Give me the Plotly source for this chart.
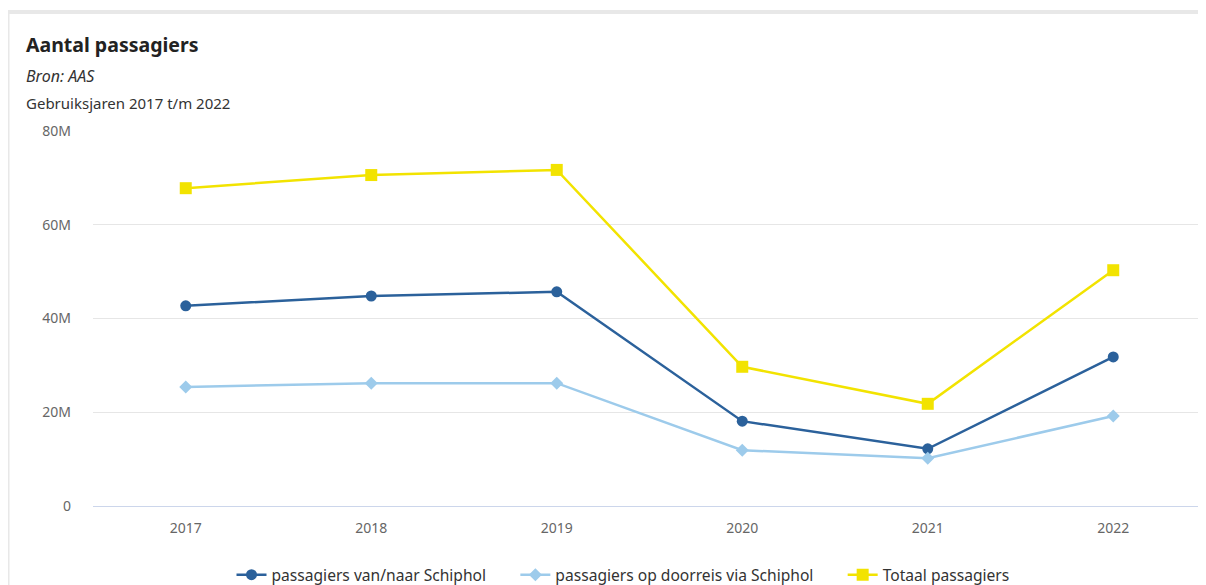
import plotly.graph_objects as go

years = ["2017", "2018", "2019", "2020", "2021", "2022"]
van_naar = [42.7e6, 44.8e6, 45.7e6, 18.1e6, 12.2e6, 31.8e6]
doorreis = [25.4e6, 26.2e6, 26.2e6, 11.9e6, 10.2e6, 19.2e6]
totaal = [67.8e6, 70.6e6, 71.7e6, 29.7e6, 21.8e6, 50.3e6]
y_ticks = [0, 20e6, 40e6, 60e6, 80e6]
y_tick_labels = ["0", "20M", "40M", "60M", "80M"]

FONT = "Noto Sans"
# page body has an 8px margin, so the figure is drawn 8px smaller/offset
W, H = 1198, 577
L, T, B = 85, 123, 79
PW = W - L
PH = H - T - B

def py(page_y):
    # reference page y -> paper y
    return 1 + (131 - page_y) / PH

def px(page_x):
    return (page_x - 93) / PW

NB = "\u00a0" * 6

fig = go.Figure()
fig.add_trace(go.Scatter(
    x=years, y=van_naar, name="passagiers van/naar Schiphol" + NB,
    mode="lines+markers", line=dict(color="#2b619b", width=2.5),
    marker=dict(symbol="circle", size=11, color="#2b619b")))
fig.add_trace(go.Scatter(
    x=years, y=doorreis, name="passagiers op doorreis via Schiphol" + NB,
    mode="lines+markers", line=dict(color="#9dcbeb", width=2.5),
    marker=dict(symbol="diamond", size=10, color="#9dcbeb")))
fig.add_trace(go.Scatter(
    x=years, y=totaal, name="Totaal passagiers",
    mode="lines+markers", line=dict(color="#f2e300", width=2.5),
    marker=dict(symbol="square", size=12, color="#f2e300")))

fig.update_layout(
    width=W, height=H,
    margin=dict(l=L, r=0, t=T, b=B),
    paper_bgcolor="white", plot_bgcolor="white",
    font=dict(family=FONT, size=14, color="#666666"),
    showlegend=True,
    legend=dict(orientation="h", x=(623 - 8) / W, xanchor="center", xref="container",
                y=(585 - 575) / H, yanchor="middle", yref="container",
                font=dict(family=FONT, size=15.6, color="#333333"),
                itemwidth=30, tracegroupgap=0),
    xaxis=dict(type="category", range=[-0.5, 5.5], showgrid=False,
               showline=True, linecolor="#ccd6eb", linewidth=1,
               ticks="", ticklabelstandoff=9,
               tickfont=dict(size=14, color="#666666"),
               zeroline=False, fixedrange=True),
    yaxis=dict(range=[0, 80e6], tickvals=y_ticks, ticktext=y_tick_labels,
               showgrid=True, gridcolor="#e6e6e6", gridwidth=1,
               zeroline=False, showline=False, ticks="",
               ticklabelstandoff=21,
               tickfont=dict(size=14, color="#666666")),
    annotations=[
        dict(text="<b>Aantal passagiers</b>", xref="paper", yref="paper",
             x=px(24), y=py(45), xanchor="left", yanchor="middle",
             showarrow=False, font=dict(family=FONT, size=19.5, color="#222222")),
        dict(text="<i>Bron: AAS</i>", xref="paper", yref="paper",
             x=px(24), y=py(76), xanchor="left", yanchor="middle",
             showarrow=False, font=dict(family=FONT, size=16, color="#333333")),
        dict(text="Gebruiksjaren 2017 t/m 2022", xref="paper", yref="paper",
             x=px(24), y=py(103), xanchor="left", yanchor="middle",
             showarrow=False, font=dict(family=FONT, size=15, color="#333333")),
    ],
)

# card border (grey frame around the chart card)
fig.add_shape(type="line", xref="paper", yref="paper",
              x0=px(8), x1=1.01, y0=py(12), y1=py(12),
              line=dict(color="#e8e8e8", width=4), layer="below")
fig.add_shape(type="line", xref="paper", yref="paper",
              x0=px(8), x1=px(8), y0=py(12), y1=-0.3,
              line=dict(color="#e8e8e8", width=3), layer="below")

fig.write_html("out.html")
